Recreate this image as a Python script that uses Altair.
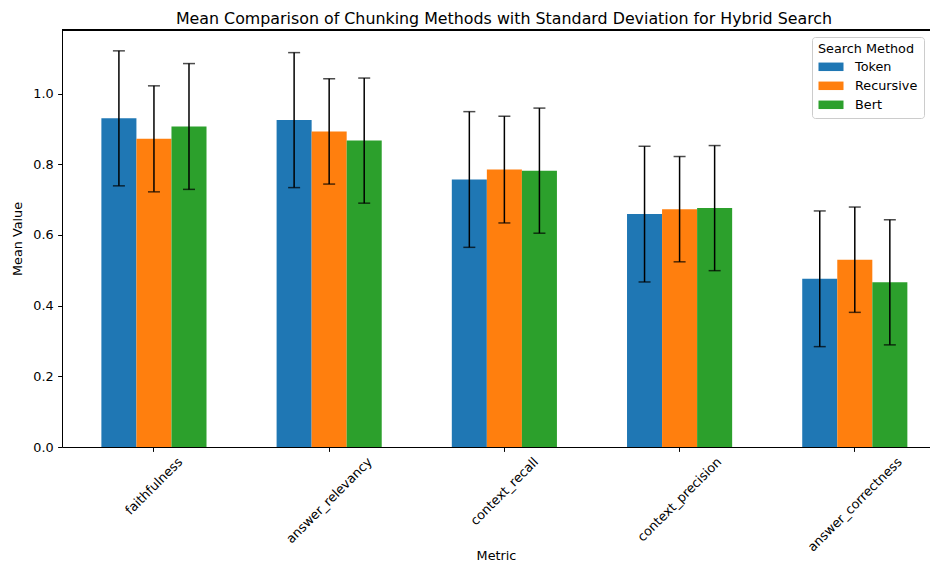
import altair as alt
import pandas as pd

# ---------------- data ----------------
metrics = ["faithfulness", "answer_relevancy", "context_recall",
           "context_precision", "answer_correctness"]
methods = ["Token", "Recursive", "Bert"]

token_mean = [0.930, 0.925, 0.757, 0.659, 0.476]
token_std = [0.191, 0.191, 0.192, 0.192, 0.192]
recursive_mean = [0.872, 0.893, 0.785, 0.673, 0.530]
recursive_std = [0.150, 0.149, 0.151, 0.149, 0.149]
bert_mean = [0.907, 0.867, 0.782, 0.676, 0.466]
bert_std = [0.178, 0.177, 0.177, 0.177, 0.177]

colors = ["#1f77b4", "#ff7f0e", "#2ca02c"]
y_ticks = [0.0, 0.2, 0.4, 0.6, 0.8, 1.0]

rows = []
for meth, means, stds in zip(methods,
                             [token_mean, recursive_mean, bert_mean],
                             [token_std, recursive_std, bert_std]):
    for met, mu, sd in zip(metrics, means, stds):
        rows.append({"Metric": met, "Method": meth, "Mean": mu,
                     "Lower": mu - sd, "Upper": mu + sd})
df = pd.DataFrame(rows)

# ---------------- styling ----------------
FONT = "DejaVu Sans"
LBL = 12.8
W, H = 868, 417

# DejaVu Sans advance widths (em) to shift rotated labels like matplotlib (ha=center)
CHAR_EM = {"a": 0.613, "c": 0.550, "e": 0.615, "f": 0.352, "h": 0.634,
           "i": 0.278, "l": 0.278, "n": 0.634, "o": 0.612, "p": 0.635,
           "r": 0.411, "s": 0.521, "t": 0.392, "u": 0.634, "v": 0.592,
           "w": 0.818, "x": 0.592, "y": 0.592, "_": 0.500}


def text_w(s):
    return sum(CHAR_EM.get(c, 0.6) for c in s) * LBL


label_offset = {
    "condition": [{"test": f"datum.label === '{m}'",
                   "value": round(0.3536 * text_w(m), 1)} for m in metrics],
    "value": 35,
}

x_enc = alt.X(
    "Metric:N", sort=metrics, title="Metric",
    scale=alt.Scale(domain=metrics, paddingInner=0.4, paddingOuter=0.177,
                    align=0.635),
    axis=alt.Axis(labelAngle=315, labelAlign="right", labelBaseline="middle",
                  labelOffset=label_offset, labelPadding=8, tickSize=4.4,
                  labelFontSize=LBL, titleFontSize=LBL,
                  titleBaseline="alphabetic", titleY=112),
)
xo_enc = alt.XOffset("Method:N", sort=methods,
                     scale=alt.Scale(domain=methods, paddingInner=0, paddingOuter=0))
y_scale = alt.Scale(domain=[0, 1.18], nice=False, zero=True)

sym = "M-1.786,-0.607L1.786,-0.607L1.786,0.607L-1.786,0.607Z"

bars = alt.Chart(df).mark_bar().encode(
    x=x_enc,
    xOffset=xo_enc,
    y=alt.Y("Mean:Q", scale=y_scale, title="Mean Value",
            axis=alt.Axis(values=y_ticks, format=".1f", tickSize=4.4,
                          labelPadding=4.5, labelFontSize=LBL,
                          titleFontSize=LBL, titlePadding=8)),
    color=alt.Color(
        "Method:N", sort=methods,
        scale=alt.Scale(domain=methods, range=colors),
        legend=alt.Legend(
            title="Search Method", orient="none", legendX=750, legendY=7,
            direction="vertical", symbolType=sym, symbolSize=196,
            symbolStrokeWidth=0, symbolOpacity=1, symbolOffset=6,
            labelFont=FONT, labelFontSize=LBL, labelColor="black",
            labelOffset=17,
            titleFont=FONT, titleFontSize=LBL, titleFontWeight="normal",
            titleColor="black", titlePadding=4, rowPadding=5, padding=6,
            strokeColor="#cccccc", fillColor="white", cornerRadius=3,
        ),
    ),
)

err = alt.Chart(df).mark_rule(color="black", strokeWidth=1.5).encode(
    x=x_enc, xOffset=xo_enc,
    y=alt.Y("Lower:Q", scale=y_scale), y2="Upper:Q",
)
cap_hi = alt.Chart(df).mark_tick(color="black", size=12, thickness=1.5,
                                 orient="horizontal").encode(
    x=x_enc, xOffset=xo_enc, y=alt.Y("Upper:Q", scale=y_scale))
cap_lo = alt.Chart(df).mark_tick(color="black", size=12, thickness=1.5,
                                 orient="horizontal").encode(
    x=x_enc, xOffset=xo_enc, y=alt.Y("Lower:Q", scale=y_scale))

top_spine = alt.Chart(df).mark_rule(color="black", strokeWidth=1).encode(
    x=alt.value(0), x2=alt.value(W), y=alt.value(0))

chart = (
    alt.layer(bars, err, cap_hi, cap_lo, top_spine)
    .properties(
        width=W, height=H,
        autosize=alt.AutoSizeParams(type="none"),
        padding={"left": 54, "top": 22, "right": 0, "bottom": 114},
        title=alt.TitleParams(
            "Mean Comparison of Chunking Methods with Standard Deviation for Hybrid Search",
            font=FONT, fontSize=15.85, fontWeight="normal", color="black",
            anchor="middle", baseline="alphabetic", offset=7, dy=17, dx=8),
    )
    .configure_view(stroke=None)
    .configure_axis(labelFont=FONT, titleFont=FONT, labelColor="black",
                    titleColor="black", titleFontWeight="normal",
                    domainColor="black", tickColor="black", grid=False,
                    domainWidth=1, tickWidth=1)
)

chart.save("out.html", embed_options={"renderer": "svg", "actions": False})
